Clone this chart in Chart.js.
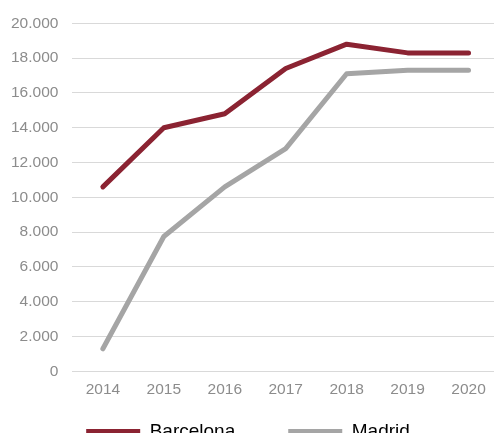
<!DOCTYPE html>
<html>
<head>
<meta charset="utf-8">
<script src="https://cdn.jsdelivr.net/npm/chart.js@4/dist/chart.umd.min.js"></script>
<style>
  html, body { margin: 0; padding: 0; background: #fff; overflow: hidden; }
  /* slightly wider than the window: the source crops the plot's right edge */
  #wrap { width: 499px; height: 433px; }
</style>
</head>
<body>
<div id="wrap"><canvas id="chart"></canvas></div>
<script>
const years = ['2014', '2015', '2016', '2017', '2018', '2019', '2020'];
const barcelona = [10600, 14000, 14800, 17400, 18800, 18300, 18300];
const madrid = [1300, 7750, 10600, 12800, 17100, 17300, 17300];
const yTicks = [0, 2000, 4000, 6000, 8000, 10000, 12000, 14000, 16000, 18000, 20000];

// 18.000 style thousands separator
const fmt = v => String(v).replace(/\B(?=(\d{3})+(?!\d))/g, '.');

Chart.defaults.font.family = "'Liberation Sans', Arial, sans-serif";

// legend padding is wide (horizontal gap between items), so only reserve a
// small strip for it and move the box up to sit just under the x labels
const legendNudge = {
  id: 'legendNudge',
  afterLayout(chart) {
    chart.legend.top -= 39;
  }
};

const lineStyle = {
  borderWidth: 5,
  borderCapStyle: 'round',
  borderJoinStyle: 'round',
  pointRadius: 0,
  pointStyle: 'line',
  tension: 0
};

new Chart(document.getElementById('chart'), {
  type: 'line',
  data: {
    labels: years,
    datasets: [
      { label: 'Barcelona', data: barcelona, borderColor: '#8B2332', backgroundColor: '#8B2332', ...lineStyle },
      { label: 'Madrid', data: madrid, borderColor: '#A5A5A5', backgroundColor: '#A5A5A5', ...lineStyle }
    ]
  },
  options: {
    responsive: true,
    maintainAspectRatio: false,
    animation: false,
    layout: { padding: { top: 15, right: 0, left: -3, bottom: 0 } },
    plugins: {
      tooltip: { enabled: false },
      legend: {
        position: 'bottom',
        maxHeight: 25,
        labels: {
          usePointStyle: true,
          pointStyleWidth: 54,
          boxHeight: 5,
          padding: 53,
          color: '#000',
          font: { size: 19 }
        }
      }
    },
    scales: {
      x: {
        offset: true,
        grid: { display: false, drawTicks: false },
        border: { display: true, color: '#d9d9d9', width: 1 },
        ticks: { color: '#8c8c8c', font: { size: 15.5 }, padding: 9 }
      },
      y: {
        min: 0,
        max: 20000,
        afterBuildTicks: axis => { axis.ticks = yTicks.map(v => ({ value: v })); },
        grid: { color: '#d9d9d9', lineWidth: 1, drawTicks: false },
        border: { display: false },
        ticks: {
          color: '#8c8c8c',
          font: { size: 15.5 },
          padding: 14,
          callback: v => fmt(v)
        }
      }
    }
  },
  plugins: [legendNudge]
});
</script>
</body>
</html>
